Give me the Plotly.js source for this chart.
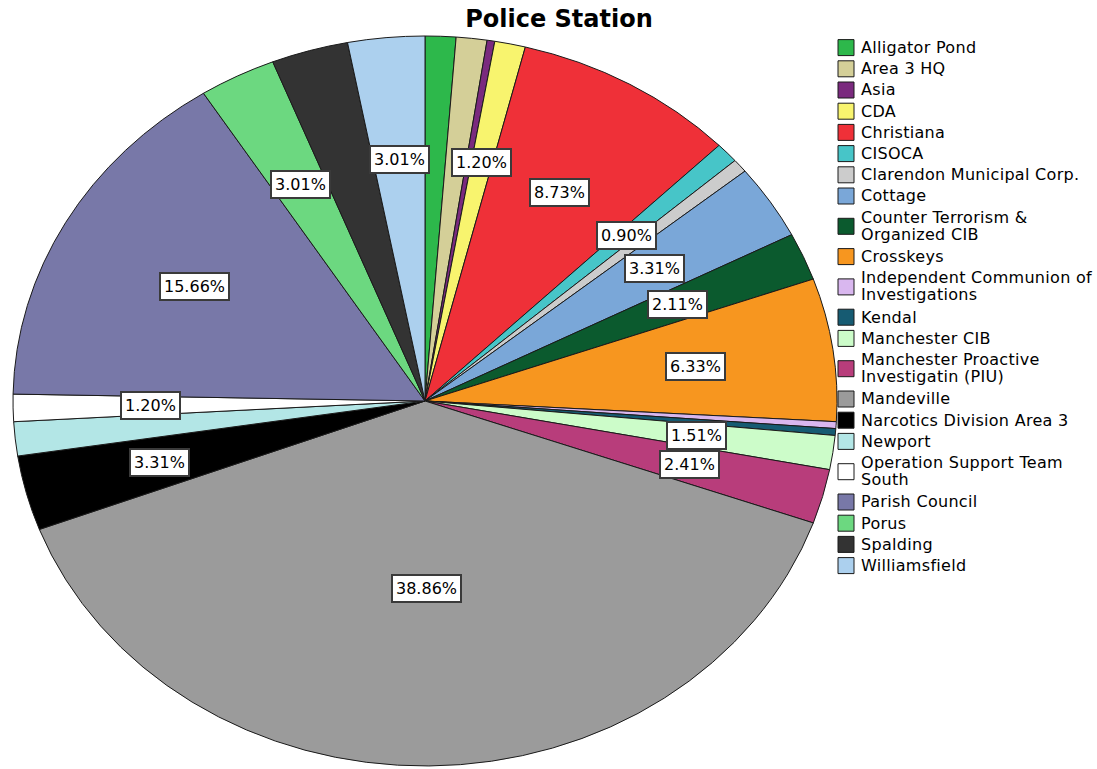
<!DOCTYPE html>
<html>
<head>
<meta charset="utf-8">
<script src="https://cdn.plot.ly/plotly-3.0.1.min.js"></script>
<style>
  html, body { margin: 0; padding: 0; background: #ffffff; overflow: hidden; }
  #chart { width: 1097px; height: 769px; }
  .pielayer path.surface { vector-effect: non-scaling-stroke; }
  .legendtext { font-size: 16px !important; letter-spacing: 0.3px; }
</style>
</head>
<body>
<div id="chart"></div>
<script>
// ---- data (counts, N = 332) ----
const categories = [
  "Alligator Pond", "Area 3 HQ", "Asia", "CDA", "Christiana", "CISOCA",
  "Clarendon Municipal Corp.", "Cottage", "Counter Terrorism &<br>Organized CIB",
  "Crosskeys", "Independent Communion of<br>Investigations", "Kendal",
  "Manchester CIB", "Manchester Proactive<br>Investigatin (PIU)", "Mandeville",
  "Narcotics Division Area 3", "Newport", "Operation Support Team<br>South",
  "Parish Council", "Porus", "Spalding", "Williamsfield"
];
const counts = [4, 4, 1, 4, 29, 3, 2, 11, 7, 21, 1, 1, 5, 8, 129, 11, 5, 4, 52, 10, 10, 10];
// slices whose percentage label is printed in the reference
const labelShown = [false, false, false, true, true, true, false, true, true, true, false, false,
                    true, true, true, true, false, true, true, true, false, true];
const sliceColors = [
  "#2db84b", "#d4cf98", "#7a2a7e", "#f8f46e", "#ef3038", "#47c5c8",
  "#cccccc", "#7aa7d8", "#0b5a2e", "#f7961f", "#d9b7ef", "#165b72",
  "#ccfcc9", "#b83d7b", "#9b9b9b", "#000000", "#b3e6e6", "#ffffff",
  "#7878a8", "#6cd880", "#333333", "#acd0ee"
];

// ---- geometry / style ----
const W = 1097, H = 769;
const margin = {l: 0, r: 0, t: 36, b: 3, pad: 0, autoexpand: false};
const domainX = [55 / W, 795 / W];
const plotW = W - margin.l - margin.r, plotH = H - margin.t - margin.b;
const radius = Math.min(plotW * (domainX[1] - domainX[0]), plotH) / 2;
const cxPx = margin.l + plotW * (domainX[0] + domainX[1]) / 2;
const stretchX = 412 / 365;          // the reference pie is an ellipse
const FONT = "DejaVu Sans, Verdana, sans-serif";

const total = counts.reduce((a, b) => a + b, 0);
const annotations = [];
let cum = 0;
counts.forEach((v, i) => {
  const sweep = v / total * 2 * Math.PI;
  const mid = cum / total * 2 * Math.PI + sweep / 2;
  cum += v;
  if (!labelShown[i]) return;
  // label at the centroid of the sector
  const half = sweep / 2;
  const frac = (2 / 3) * Math.sin(half) / half;
  const px = cxPx + frac * radius * stretchX * Math.sin(mid);
  const dyUp = frac * radius * Math.cos(mid);
  annotations.push({
    xref: "paper", yref: "paper",
    x: (px - margin.l) / plotW,
    y: 0.5 + dyUp / plotH,
    xanchor: "center", yanchor: "middle",
    text: (v / total * 100).toFixed(2) + "%",
    showarrow: false,
    bgcolor: "#ffffff", bordercolor: "#3a3a3a", borderwidth: 2, borderpad: 3,
    font: {family: FONT, size: 16, color: "#000000"}
  });
});

const trace = {
  type: "pie",
  labels: categories,
  values: counts,
  sort: false,
  direction: "clockwise",
  rotation: 0,
  textinfo: "none",
  textposition: "none",
  hoverinfo: "label+percent",
  domain: {x: domainX, y: [0, 1]},
  marker: {colors: sliceColors, line: {color: "#1a1a1a", width: 1}}
};

const layout = {
  width: W, height: H,
  margin: margin,
  paper_bgcolor: "#ffffff",
  title: {
    text: "Police Station",
    font: {family: FONT, size: 24, color: "#000000", weight: "bold"},
    xref: "container", yref: "container",
    x: 559 / W, xanchor: "center",
    y: 1 - 19 / H, yanchor: "middle",
    automargin: false
  },
  showlegend: true,
  legend: {
    x: 821 / W, xanchor: "left",
    y: 1, yanchor: "top",
    bgcolor: "rgba(0,0,0,0)",
    font: {family: FONT, size: 14, color: "#000000"},
    traceorder: "normal"
  },
  annotations: annotations
};

Plotly.newPlot("chart", [trace], layout, {staticPlot: true, displayModeBar: false}).then(function (gd) {
  const cd0 = gd.calcdata[0][0];
  const cx = cd0.cx;
  document.querySelectorAll(".pielayer").forEach(function (g) {
    g.setAttribute("transform", "matrix(" + stretchX + ",0,0,1," + (cx * (1 - stretchX)) + ",0)");
  });
  document.querySelectorAll(".legendpie").forEach(function (p) {
    p.setAttribute("d", "M13,8H-3V-8H13Z");
  });
  document.querySelectorAll(".legendtext").forEach(function (t) {
    t.querySelectorAll("tspan.line").forEach(function (ts, k) {
      ts.setAttribute("dy", (k * 1.06) + "em");
    });
  });
  // nudge the legend block up a few pixels to sit where the reference has it
  document.querySelectorAll("g.legend").forEach(function (g) {
    const tr = g.getAttribute("transform") || "";
    const m = tr.match(/translate\(\s*([-\d.]+)[ ,]+([-\d.]+)\s*\)/);
    if (m) g.setAttribute("transform", "translate(" + m[1] + "," + (parseFloat(m[2]) - 4) + ")");
  });
});
</script>
</body>
</html>
